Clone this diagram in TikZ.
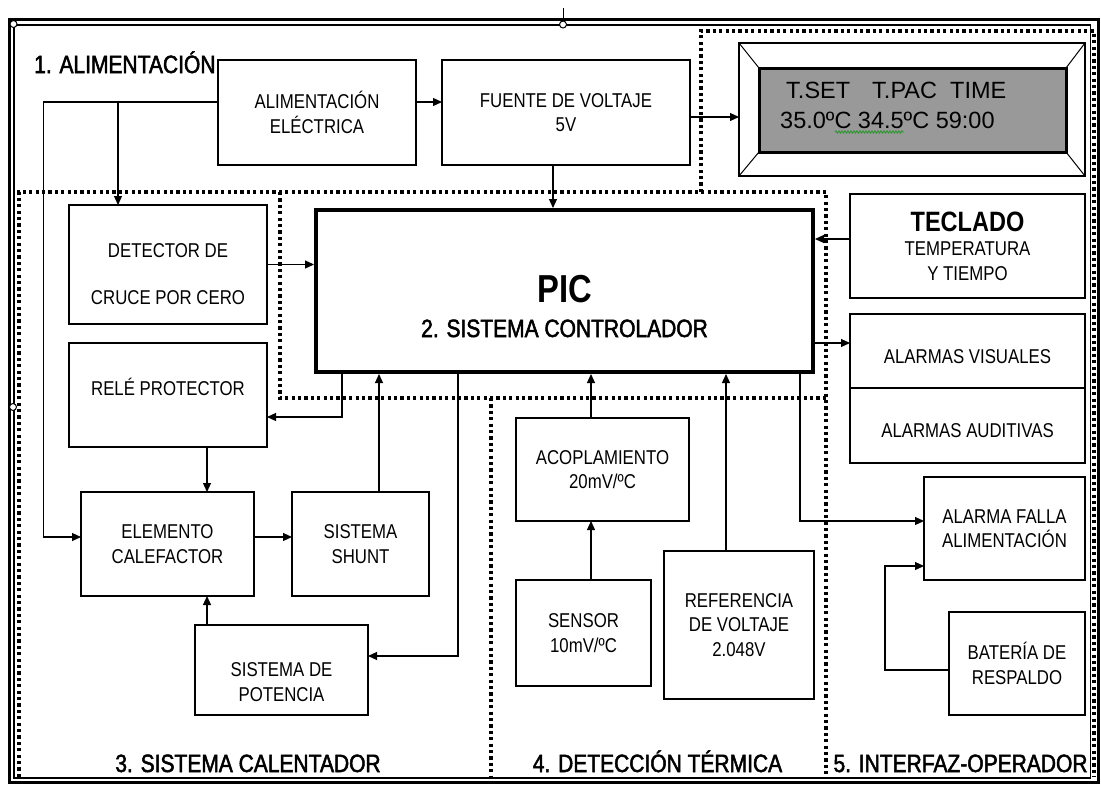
\documentclass[tikz,border=0pt]{standalone}
\usepackage{fontspec}
\setmainfont{Liberation Sans}[FakeStretch=0.84]
\newfontfamily\lcdfont{Liberation Sans}
\newfontfamily\secfont{Liberation Sans}[FakeStretch=0.84, FakeBold=2]
\usetikzlibrary{arrows.meta,decorations.pathmorphing}
\definecolor{lcdgray}{RGB}{153,153,153}
\definecolor{spellgreen}{RGB}{40,150,40}

\begin{document}
\begin{tikzpicture}[x=1pt, y=-1pt,
    blk/.style={draw, rectangle, line width=1.2pt, inner sep=0pt, outer sep=0pt, align=center, execute at begin node={\rule{0pt}{25pt}}, font=\fontsize{20}{24.5}\selectfont},
    txt/.style={inner sep=0pt, align=center, font=\fontsize{20}{24.5}\selectfont},
    sec/.style={inner sep=0pt, anchor=base, font=\secfont\fontsize{25}{30}\selectfont},
    lcdtxt/.style={inner sep=0pt, anchor=base west, font=\lcdfont\fontsize{23.5}{26}\selectfont},
    zone/.style={line width=3.2pt, dash pattern=on 3.2pt off 3.2pt},
    wire/.style={line width=1.2pt},
    >={Triangle[length=9pt, width=8pt]}]
    \useasboundingbox (0,0) rectangle (1101,785);

    \draw[line width=3pt] (9.5,19) rectangle (1098.5,782);
    \draw[line width=1.2pt] (14,25) rectangle (1090.5,778);

    \draw[zone] (19,777) -- (19,192) -- (826,192) -- (826,777);
    \draw[zone] (280,192) -- (280,398) -- (826,398);
    \draw[zone] (491,398) -- (491,777);
    \draw[zone] (701,192) -- (701,31) -- (1094,31) -- (1094,777);

    \node [blk, minimum width=198, minimum height=105] (alim) at (317,112.5) {ALIMENTACIÓN\\ELÉCTRICA};
    \node [blk, minimum width=248, minimum height=105] (fuente) at (566,112.5) {FUENTE DE VOLTAJE\\5V};
    \node [blk, minimum width=198, minimum height=119] (det) at (168,264.5) {\rule{0pt}{33pt}DETECTOR DE\\[22pt]CRUCE POR CERO};
    \node [blk, minimum width=198, minimum height=104] (rele) at (168,395) {};
    \node [txt] (reletxt) at ([yshift=8]rele.center) {RELÉ PROTECTOR};
    \node [blk, line width=4pt, outer sep=2pt, minimum width=497, minimum height=162] (pic) at (564.5,291) {};
    \node [inner sep=0pt, anchor=base, font=\fontsize{39}{40}\selectfont\bfseries] (pictitle) at (564.5,302) {PIC};
    \node [sec] (piclbl) at (564.5,337) {2. SISTEMA CONTROLADOR};
    \node [blk, minimum width=173, minimum height=104] (elem) at (167.5,544) {ELEMENTO\\CALEFACTOR};
    \node [blk, minimum width=137, minimum height=104] (shunt) at (360.5,544) {SISTEMA\\SHUNT};
    \node [blk, minimum width=173, minimum height=90] (pot) at (281.5,670) {};
    \node [txt] (pottxt) at ([yshift=-12]pot.center) {SISTEMA DE\\POTENCIA};
    \node [blk, minimum width=173, minimum height=103] (acop) at (602.5,469.5) {ACOPLAMIENTO\\20mV/ºC};
    \node [blk, minimum width=135, minimum height=106] (sensor) at (583.5,633) {SENSOR\\10mV/ºC};
    \node [blk, minimum width=150, minimum height=148] (ref) at (739,625) {REFERENCIA\\DE VOLTAJE\\2.048V};
    \node [blk, minimum width=235, minimum height=104] (tec) at (967.5,246) {{\fontsize{28}{30}\selectfont\bfseries TECLADO}\\TEMPERATURA\\Y TIEMPO};
    \node [blk, minimum width=235, minimum height=74] (vis) at (967.5,351) {ALARMAS VISUALES};
    \node [blk, minimum width=235, minimum height=75] (aud) at (967.5,425.5) {ALARMAS AUDITIVAS};
    \node [blk, minimum width=161, minimum height=103] (falla) at (1004.5,528.5) {ALARMA FALLA\\ALIMENTACIÓN};
    \node [blk, minimum width=136, minimum height=103] (bat) at (1017,663.5) {BATERÍA DE\\RESPALDO};

    \node [blk, minimum width=346, minimum height=133] (lcd) at (912,109.5) {};
    \node [draw, line width=3pt, fill=lcdgray, outer sep=0pt, minimum width=307, minimum height=84] (screen) at (912.5,110) {};
    \draw [line width=1pt] (lcd.north west) -- (screen.north west) (lcd.north east) -- (screen.north east)
        (lcd.south west) -- (screen.south west) (lcd.south east) -- (screen.south east);
    \node [lcdtxt] (tset) at (786,98) {T.SET};
    \node [lcdtxt] (tpac) at (872,98) {T.PAC};
    \node [lcdtxt] (time) at (950,98) {TIME};
    \node [lcdtxt] (vals) at (780,128) {35.0ºC 34.5ºC 59:00};
    \draw [spellgreen, line width=0.8pt, decorate, decoration={snake, amplitude=1.2pt, segment length=3pt}] (835,132) -- (904,132);

    \node [sec, anchor=base west] (zone1) at (34,73) {1. ALIMENTACIÓN};
    \node [sec] (zone3) at (248,772) {3. SISTEMA CALENTADOR};
    \node [sec] (zone4) at (657.5,772) {4. DETECCIÓN TÉRMICA};
    \node [sec] (zone5) at (960.5,772) {5. INTERFAZ-OPERADOR};

    \coordinate (feed) at (43.5,102);
    \coordinate (tap) at (118,102);
    \coordinate (bend) at (885,566);
    \path ([xshift=65]pic.south west) coordinate (s1);
    \path ([xshift=39]rele.south) coordinate (r2);
    \path ([xshift=-11.5]acop.north) coordinate (a1);
    \path ([xshift=-13]ref.north) coordinate (r1);
    \path ([yshift=8]vis.west) coordinate (v1);

    \draw [wire, ->] ([yshift=10.5]alim.east) -- ([yshift=10.5]fuente.west);
    \draw [wire, ->] ([yshift=10.5]alim.west) -- (feed) |- ([yshift=7]elem.west);
    \draw [wire, ->] (tap) -- (tap |- det.north);
    \draw [wire, ->] (fuente.east) ++(0,4.5) coordinate (f1) -- (f1 -| lcd.west);
    \draw [wire, ->] (fuente.south) ++(-13,0) coordinate (f2) -- (f2 |- pic.north);
    \draw [wire, ->] (det.east) -- (det.east -| pic.west);
    \draw [wire, ->] (tec.west) ++(0,-7) coordinate (t1) -- (t1 -| pic.east);
    \draw [wire, ->] (v1 -| pic.east) -- (v1);
    \draw [wire, ->] ([xshift=28]pic.south west) |- ([yshift=-22]rele.east);
    \draw [wire, ->] (s1 |- shunt.north) -- (s1);
    \draw [wire, ->] ([xshift=144]pic.south west) |- ([yshift=14]pot.east);
    \draw [wire, ->] (r2) -- (r2 |- elem.north);
    \draw [wire, ->] (r2 |- pot.north) -- (r2 |- elem.south);
    \draw [wire, ->] ([yshift=7]elem.east) -- ([yshift=7]shunt.west);
    \draw [wire, ->] (a1) -- (a1 |- pic.south);
    \draw [wire, ->] (a1 |- sensor.north) -- (a1 |- acop.south);
    \draw [wire, ->] (r1) -- (r1 |- pic.south);
    \draw [wire, ->] ([xshift=-15]pic.south east) |- ([yshift=7.5]falla.west);
    \draw [wire, ->] ([yshift=-6.5]bat.west) -| (bend) -- (bend -| falla.west);

    \draw [line width=1pt] (563,8) -- (563,21);
    \draw [fill=white, line width=1pt] (13.5,24) circle (3.5) (563,24.5) circle (3.5) (13,407) circle (3.5);
\end{tikzpicture}
\end{document}
